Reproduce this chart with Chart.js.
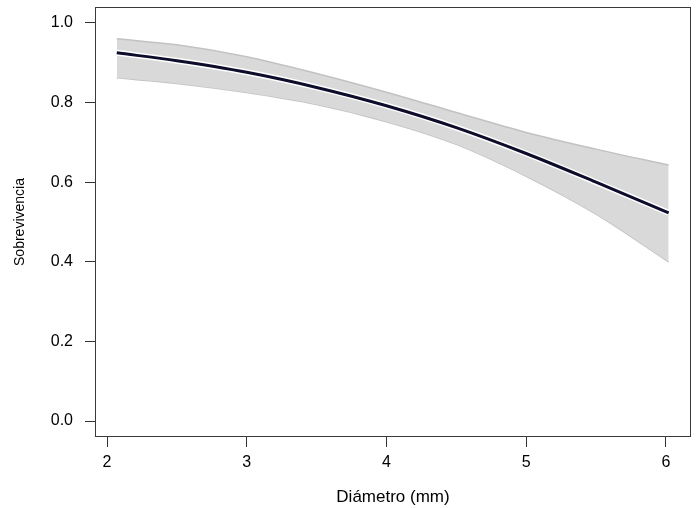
<!DOCTYPE html>
<html>
<head>
<meta charset="utf-8">
<script src="https://cdn.jsdelivr.net/npm/chart.js@4.4.1/dist/chart.umd.min.js"></script>
<style>
    html, body { margin: 0; padding: 0; background: #fff; }
    canvas { display: block; }
</style>
</head>
<body>
<canvas id="graficoSobrevivencia" width="697" height="508"></canvas>
<script>
// Datos
const diametro = [2.07, 2.5, 3, 3.5, 4, 4.5, 5, 5.5, 6.02];
const sobrevivencia = [0.925, 0.905, 0.876, 0.838, 0.792, 0.737, 0.672, 0.600, 0.523];
const limiteSuperior = [0.960, 0.945, 0.915, 0.873, 0.826, 0.775, 0.725, 0.683, 0.643];
const limiteInferior = [0.862, 0.848, 0.825, 0.795, 0.752, 0.695, 0.615, 0.520, 0.400];

const ticksX = [2, 3, 4, 5, 6];
const ticksY = [0, 0.2, 0.4, 0.6, 0.8, 1.0];

const fuente = "'Liberation Sans', Arial, sans-serif";

function puntos(ys) {
    return diametro.map((x, i) => ({ x: x, y: ys[i] }));
}

// caja alrededor del área del gráfico (estilo R)
const caja = {
    id: 'caja',
    afterDraw(chart) {
        const a = chart.chartArea;
        const ctx = chart.ctx;
        ctx.save();
        ctx.strokeStyle = '#3a3a3a';
        ctx.lineWidth = 1;
        ctx.strokeRect(Math.round(a.left) + 0.5, Math.round(a.top) + 0.5,
            Math.round(a.right - a.left) - 1, Math.round(a.bottom - a.top) - 1);
        ctx.restore();
    }
};

function sinRelleno(scale) {
    scale.paddingTop = 0;
    scale.paddingBottom = 0;
    scale.paddingLeft = 0;
    scale.paddingRight = 0;
}

const ctx = document.getElementById('graficoSobrevivencia').getContext('2d');

new Chart(ctx, {
    type: 'line',
    data: {
        datasets: [
            {
                label: 'Curva',
                data: puntos(sobrevivencia),
                borderColor: '#0d0d2b',
                borderWidth: 3,
                pointRadius: 0,
                cubicInterpolationMode: 'monotone',
                fill: false,
                order: 0
            },
            {
                label: 'Halo',
                data: puntos(sobrevivencia),
                borderColor: '#ffffff',
                borderWidth: 6,
                pointRadius: 0,
                cubicInterpolationMode: 'monotone',
                fill: false,
                order: 1
            },
            {
                label: 'Superior',
                data: puntos(limiteSuperior),
                borderColor: '#c2c2c2',
                borderWidth: 1.5,
                backgroundColor: '#d9d9d9',
                pointRadius: 0,
                cubicInterpolationMode: 'monotone',
                fill: '+1',
                order: 2
            },
            {
                label: 'Inferior',
                data: puntos(limiteInferior),
                borderColor: '#c2c2c2',
                borderWidth: 1.5,
                pointRadius: 0,
                cubicInterpolationMode: 'monotone',
                fill: false,
                order: 3
            }
        ]
    },
    options: {
        responsive: false,
        animation: false,
        layout: { padding: { top: 7, right: 6, left: 0, bottom: 0 } },
        plugins: {
            legend: { display: false },
            tooltip: { enabled: false }
        },
        scales: {
            x: {
                type: 'linear',
                min: 1.914,
                max: 6.18,
                afterBuildTicks: scale => { scale.ticks = ticksX.map(v => ({ value: v })); },
                afterFit: scale => { scale.height = 71; sinRelleno(scale); },
                grid: {
                    drawOnChartArea: false,
                    drawTicks: true,
                    tickLength: 10,
                    tickColor: '#333'
                },
                border: { display: false },
                ticks: {
                    color: '#000',
                    padding: 6,
                    maxRotation: 0,
                    font: { family: fuente, size: 16 }
                },
                title: {
                    display: true,
                    text: 'Diámetro (mm)',
                    color: '#000',
                    font: { family: fuente, size: 17 },
                    padding: { top: 0, bottom: 0 }
                }
            },
            y: {
                min: -0.04,
                max: 1.04,
                afterBuildTicks: scale => { scale.ticks = ticksY.map(v => ({ value: v })); },
                afterFit: scale => { scale.width = 95; sinRelleno(scale); },
                grid: {
                    drawOnChartArea: false,
                    drawTicks: true,
                    tickLength: 10,
                    tickColor: '#333'
                },
                border: { display: false },
                ticks: {
                    color: '#000',
                    padding: 12,
                    font: { family: fuente, size: 16 },
                    callback: v => v.toFixed(1)
                },
                title: {
                    display: true,
                    text: 'Sobrevivencia',
                    color: '#000',
                    font: { family: fuente, size: 14 },
                    padding: { top: 11.6, bottom: 0 }
                }
            }
        }
    },
    plugins: [caja]
});
</script>
</body>
</html>
